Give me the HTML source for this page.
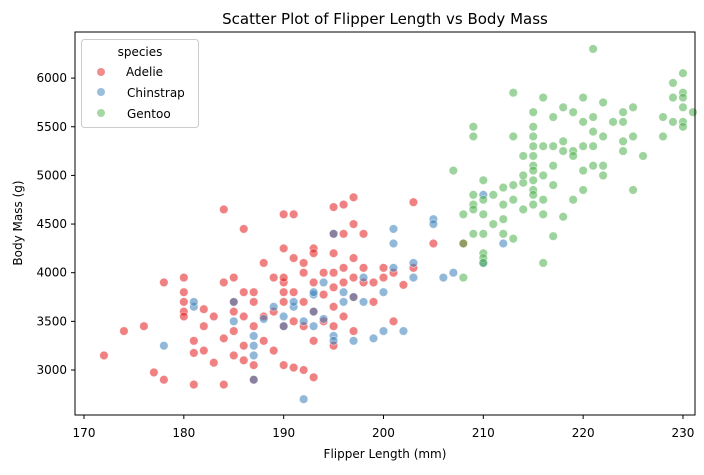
<!DOCTYPE html>
<html><head><meta charset="utf-8">
<style>
body{margin:0;background:#fff;font-family:"Liberation Sans","DejaVu Sans",sans-serif;}
svg text{font-family:"DejaVu Sans","Liberation Sans",sans-serif;fill:#000;}
</style></head>
<body>
<svg id="chart" width="704" height="470" viewBox="0 0 704 470" xmlns="http://www.w3.org/2000/svg">
<rect width="704" height="470" fill="#fff"/>
<text x="385" y="24" font-size="15" text-anchor="middle">Scatter Plot of Flipper Length vs Body Mass</text>
<g id="grid"></g>
<g id="points"></g>
<rect x="75" y="32" width="620" height="383" fill="none" stroke="#000" stroke-width="1"/>
<text x="385" y="458" font-size="12" text-anchor="middle">Flipper Length (mm)</text>
<text transform="translate(22,223) rotate(-90)" font-size="12" text-anchor="middle">Body Mass (g)</text>
<g>
<rect x="81.5" y="39.5" width="117" height="88" rx="3" fill="#fff" fill-opacity="0.8" stroke="#ccc"/>
<text x="140" y="56" font-size="12" text-anchor="middle">species</text>
<circle cx="101" cy="72" r="4" fill="#e41a1c" fill-opacity="0.5"/>
<text x="126" y="76" font-size="12">Adelie</text>
<circle cx="101" cy="92" r="4" fill="#377eb8" fill-opacity="0.5"/>
<text x="127" y="97" font-size="12">Chinstrap</text>
<circle cx="101" cy="113" r="4" fill="#4daf4a" fill-opacity="0.5"/>
<text x="127" y="118" font-size="12">Gentoo</text>
</g>
</svg>
<script>
const xTicks=[170,180,190,200,210,220,230];
const yTicks=[3000,3500,4000,4500,5000,5500,6000];
const adelie=[[172,3150],[174,3400],[176,3450],[177,2975],[178,2900],[178,3900],[180,3950],[180,3800],[180,3700],[180,3600],[180,3550],[181,3300],[181,3175],[181,2850],[182,3450],[182,3200],[182,3625],[183,3550],[183,3075],[184,3900],[184,4650],[184,3325],[184,2850],[185,3700],[185,3950],[185,3600],[185,3400],[185,3150],[186,4450],[186,3800],[186,3550],[186,3250],[186,3100],[187,3800],[187,3700],[187,3450],[187,3050],[187,2900],[188,4100],[188,3300],[188,3550],[189,3950],[189,3600],[189,3200],[190,4600],[190,4250],[190,3900],[190,3950],[190,3800],[190,3450],[190,3700],[190,3050],[191,4600],[191,4150],[191,3800],[191,3500],[191,3025],[192,4100],[192,4000],[192,3700],[192,3450],[192,3000],[193,4250],[193,4200],[193,3900],[193,3600],[193,3300],[193,2925],[194,3775],[194,4000],[194,3500],[195,4675],[195,4400],[195,4200],[195,4000],[195,3850],[195,3650],[195,3450],[195,3250],[196,4700],[196,4400],[196,4050],[196,3900],[196,3550],[197,4775],[197,4500],[197,4150],[197,3950],[197,3750],[197,3400],[198,4400],[198,4050],[198,3900],[199,3700],[199,3900],[200,4050],[200,3950],[201,4000],[201,3500],[202,3875],[203,4725],[203,4050],[205,4300],[208,4300]];
const chinstrap=[[178,3250],[181,3650],[181,3700],[185,3700],[185,3500],[187,3350],[187,3250],[187,2900],[188,3525],[189,3650],[190,3550],[190,3450],[191,3650],[192,2700],[192,3500],[193,3775],[193,3800],[193,3600],[194,3525],[195,4400],[195,3350],[195,3300],[196,3800],[196,3700],[197,3750],[197,3300],[198,3950],[198,3700],[199,3325],[200,3400],[200,3800],[201,4450],[201,4300],[201,4050],[202,3400],[203,4100],[203,3950],[205,4550],[205,4500],[206,3950],[207,4000],[210,4800],[210,4100],[212,4300],[191,3700],[193,3450],[187,3150],[194,3900]];
const gentoo=[[207,5050],[208,4300],[208,3950],[208,4600],[209,5400],[209,5500],[209,4800],[209,4700],[209,4650],[209,4400],[210,4950],[210,4750],[210,4600],[210,4400],[210,4200],[210,4150],[210,4100],[211,4800],[211,4500],[212,4875],[212,4550],[212,4400],[212,4700],[213,5850],[213,5400],[213,4900],[213,4750],[213,4350],[214,5200],[214,4650],[214,4925],[214,5000],[215,5650],[215,5500],[215,5400],[215,5300],[215,5200],[215,5100],[215,5050],[215,4950],[215,4850],[215,4800],[215,4700],[216,5800],[216,5300],[216,5000],[216,4750],[216,4600],[216,4100],[217,5600],[217,5100],[217,4900],[217,4375],[218,5700],[218,5250],[218,4575],[219,5250],[219,5200],[219,5650],[219,4750],[220,5800],[220,5550],[220,5300],[220,5050],[220,4850],[221,6300],[221,5450],[221,5300],[221,5100],[221,5600],[222,5750],[222,5400],[222,5100],[222,5000],[223,5550],[224,5650],[224,5550],[224,5350],[224,5250],[225,5700],[225,5400],[225,4850],[226,5200],[228,5600],[228,5400],[229,5950],[229,5800],[229,5550],[230,6050],[230,5850],[230,5800],[230,5700],[230,5550],[230,5500],[231,5650],[217,5300],[218,5350]];
const NS="http://www.w3.org/2000/svg";
function xs(v){return 84+(v-170)*9.983;}
function ys(v){return 370-(v-3000)*0.0973;}
const g=document.getElementById('grid');
xTicks.forEach(t=>{
  const l=document.createElementNS(NS,'line');
  
  
  l.setAttribute('x1',xs(t));l.setAttribute('x2',xs(t));l.setAttribute('y1',415);l.setAttribute('y2',419);l.setAttribute('stroke','#000');
  g.appendChild(l);
  const tx=document.createElementNS(NS,'text');
  
  
  tx.setAttribute('x',xs(t));tx.setAttribute('y',437);tx.setAttribute('font-size','12');tx.setAttribute('text-anchor','middle');
  tx.textContent=t;g.appendChild(tx);
});
yTicks.forEach(t=>{
  const l=document.createElementNS(NS,'line');
  
  
  l.setAttribute('x1',71);l.setAttribute('x2',75);l.setAttribute('y1',ys(t));l.setAttribute('y2',ys(t));l.setAttribute('stroke','#000');
  g.appendChild(l);
  const tx=document.createElementNS(NS,'text');
  
  
  tx.setAttribute('x',67);tx.setAttribute('y',ys(t)+4);tx.setAttribute('font-size','12');tx.setAttribute('text-anchor','end');
  tx.textContent=t;g.appendChild(tx);
});
const p=document.getElementById('points');
[[adelie,'#e41a1c','adelie'],[chinstrap,'#377eb8','chinstrap'],[gentoo,'#4daf4a','gentoo']].forEach(([arr,col,nm])=>{
  arr.forEach(d=>{
    const c=document.createElementNS(NS,'circle');
    
    
    c.setAttribute('cx',xs(d[0]));c.setAttribute('cy',ys(d[1]));c.setAttribute('r',4.3);
    c.setAttribute('fill',col);c.setAttribute('fill-opacity','0.55');
    c.setAttribute('stroke','#fff');c.setAttribute('stroke-opacity','0.6');c.setAttribute('stroke-width','0.7');
    p.appendChild(c);
  });
});
</script>
</body></html>
